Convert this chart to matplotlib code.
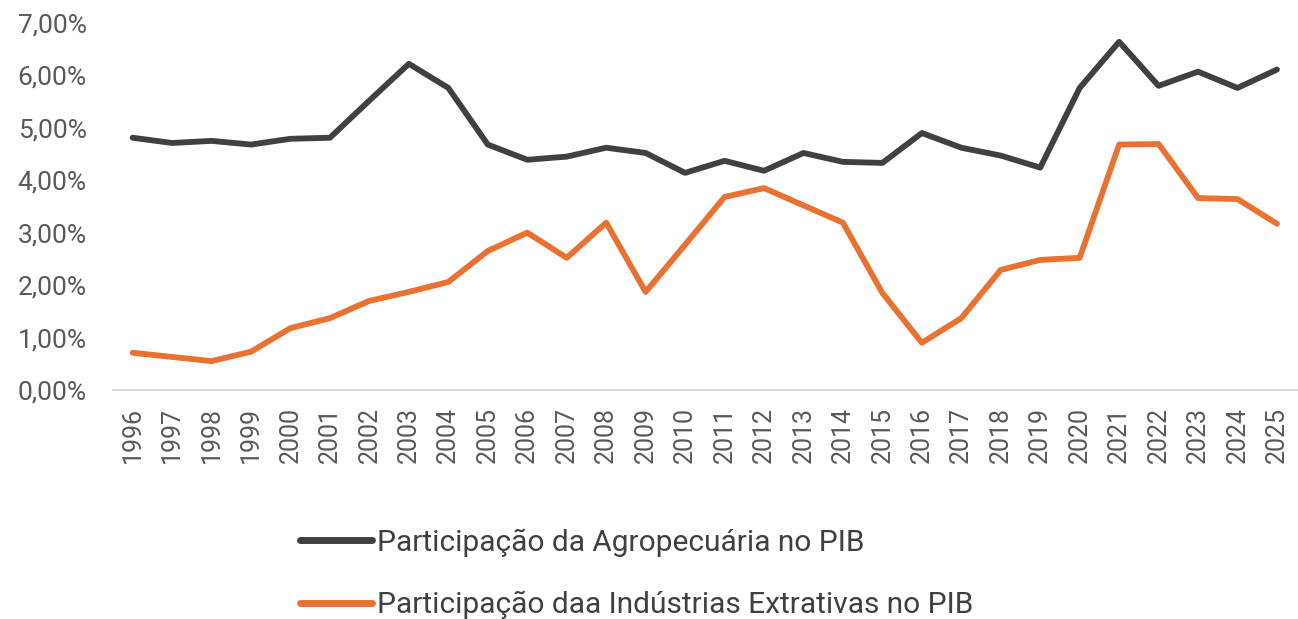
import matplotlib
matplotlib.use("Agg")
import matplotlib.pyplot as plt
from matplotlib.ticker import FuncFormatter

# =========================================================
# Data
# =========================================================
years = [str(y) for y in range(1996, 2026)]

agro = [4.81, 4.71, 4.75, 4.68, 4.79, 4.81, 5.52, 6.22, 5.76, 4.68,
        4.39, 4.45, 4.62, 4.52, 4.14, 4.37, 4.18, 4.52, 4.35, 4.33,
        4.90, 4.62, 4.47, 4.24, 5.76, 6.64, 5.80, 6.07, 5.76, 6.11]

extrativas = [0.71, 0.63, 0.55, 0.73, 1.18, 1.37, 1.70, 1.87, 2.06, 2.65,
              3.00, 2.52, 3.19, 1.87, 2.77, 3.68, 3.85, 3.52, 3.19, 1.85,
              0.90, 1.37, 2.29, 2.48, 2.52, 4.68, 4.69, 3.66, 3.64, 3.17]

labels = ["Participação da Agropecuária no PIB",
          "Participação daa Indústrias Extrativas no PIB"]

# =========================================================
# Plot
# =========================================================
plt.rcParams["font.family"] = ["Roboto", "DejaVu Sans"]

fig = plt.figure(figsize=(12.98, 6.19), dpi=100)
ax = fig.add_axes([0.087, 0.370, 0.912, 0.593])

x = range(len(years))
ax.plot(x, agro, color="#404040", lw=4.2, solid_joinstyle="round",
        solid_capstyle="round", label=labels[0])
ax.plot(x, extrativas, color="#E97132", lw=4.2, solid_joinstyle="round",
        solid_capstyle="round", label=labels[1])

ax.set_xlim(-0.5, len(years) - 0.5)
ax.set_ylim(0, 7)
ax.set_yticks(range(0, 8))
ax.yaxis.set_major_formatter(FuncFormatter(lambda v, p: f"{v:.2f}%".replace(".", ",")))
ax.set_xticks(list(x))
ax.set_xticklabels(years, rotation=90)

for s in ["top", "right", "left"]:
    ax.spines[s].set_visible(False)
ax.spines["bottom"].set_color("#d9d9d9")
ax.spines["bottom"].set_linewidth(1.5)

ax.tick_params(axis="both", length=0, labelcolor="#595959")
ax.tick_params(axis="y", labelsize=19, pad=19)
ax.tick_params(axis="x", labelsize=18, pad=12)

leg = fig.legend(loc="center left", bbox_to_anchor=(0.231, 0.073), frameon=False,
                 fontsize=21.5, handlelength=2.4, handletextpad=0.2, borderpad=0,
                 borderaxespad=0, labelspacing=1.15, labelcolor="#404040")
for h in leg.get_lines():
    h.set_linewidth(5)

fig.savefig("out.png", dpi=100)
